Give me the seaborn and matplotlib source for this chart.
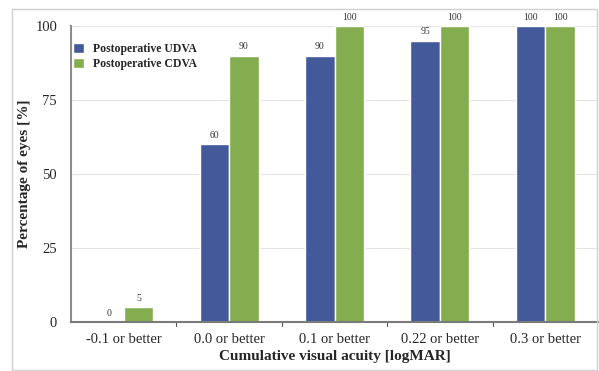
import matplotlib
matplotlib.use("Agg")
import matplotlib.pyplot as plt
import seaborn as sns
import pandas as pd
from matplotlib.patches import Rectangle

categories = ["-0.1 or better", "0.0 or better", "0.1 or better", "0.22 or better", "0.3 or better"]
udva = [0, 60, 90, 95, 100]
cdva = [5, 90, 100, 100, 100]
series_names = ["Postoperative UDVA", "Postoperative CDVA"]
colors = ["#44599A", "#84AD50"]

df = pd.DataFrame({
    "cat": categories * 2,
    "val": udva + cdva,
    "series": [series_names[0]] * 5 + [series_names[1]] * 5,
})

sns.set_theme(style="white")
plt.rcParams["font.family"] = ["Liberation Serif", "DejaVu Serif"]

fig = plt.figure(figsize=(5.99, 3.71), dpi=100)
ax = fig.add_axes([71 / 599, 1 - 322 / 371, (598 - 71) / 599, (322 - 26) / 371])

sns.barplot(data=df, x="cat", y="val", hue="series", palette=colors, ax=ax,
            width=0.56, edgecolor="white", linewidth=1, saturation=1)

ax.set_ylim(0, 100)
ax.set_xlim(-0.5, 4.5)
ax.set_yticks([0, 25, 50, 75, 100])
ax.yaxis.grid(True, color="#E4E4E4", linewidth=0.8)
ax.set_axisbelow(True)
for s in ["top", "right"]:
    ax.spines[s].set_visible(False)
ax.spines["left"].set_color("#8C8C8C")
ax.spines["left"].set_linewidth(1.5)
ax.spines["bottom"].set_color("#7A7A7A")
ax.spines["bottom"].set_linewidth(1.5)

ax.set_xticks(range(len(categories)))
ax.set_xticklabels(categories, fontsize=10.5)
ax.tick_params(axis="x", length=0, pad=8)
ax.tick_params(axis="y", length=0, labelsize=10.5, pad=10)
for b in [0.5, 1.5, 2.5, 3.5]:
    ax.plot([b, b], [0, -1.2], color="#555555", lw=0.8, clip_on=False)

ax.set_xlabel("Cumulative visual acuity [logMAR]", fontsize=11, fontweight="bold")
ax.xaxis.set_label_coords(0.5, -0.094)
ax.set_ylabel("Percentage of eyes [%]", fontsize=11, fontweight="bold")
ax.yaxis.set_label_coords(-0.075, 0.5)

for cont in ax.containers:
    for bar in cont:
        h = bar.get_height()
        ax.text(bar.get_x() + bar.get_width() / 2, h + 1.5, f"{h:.0f}",
                ha="center", va="bottom", fontsize=7, color="#333333", clip_on=False)

leg = ax.legend(loc="upper left", bbox_to_anchor=(-0.012, 0.97), frameon=False,
                fontsize=8.5, handlelength=0.9, handleheight=0.9, handletextpad=0.8,
                labelspacing=0.25, borderaxespad=0.3)
for t in leg.get_texts():
    t.set_fontweight("bold")

fig.patches.append(Rectangle((12 / 599, 1 / 371), 585 / 599, 361 / 371,
                             transform=fig.transFigure, fill=False,
                             edgecolor="#D0D0D0", linewidth=1))

fig.savefig("out.png", dpi=100)
